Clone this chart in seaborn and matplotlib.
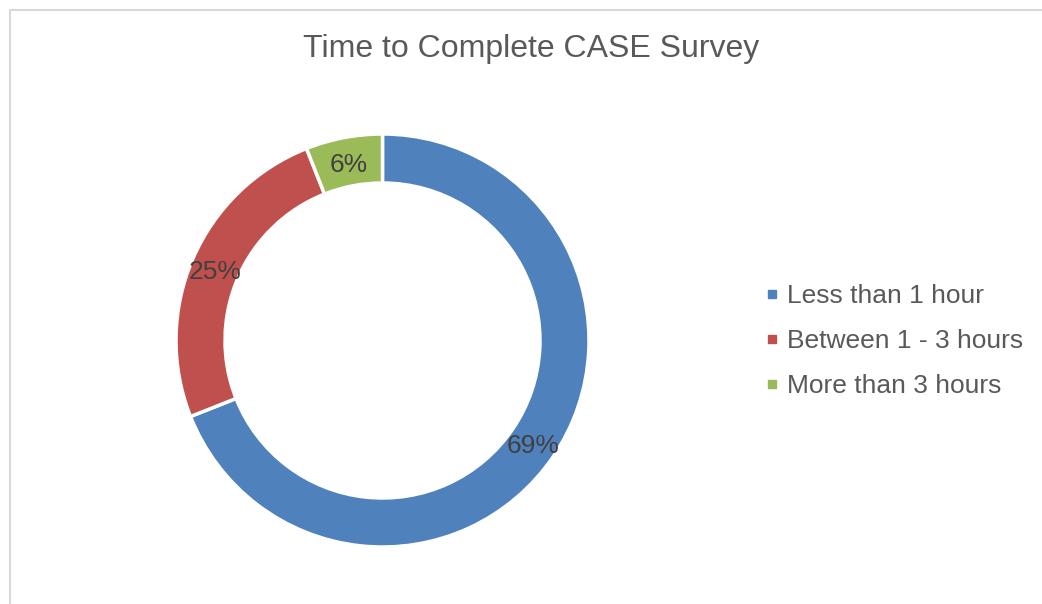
import matplotlib
matplotlib.use("Agg")
import matplotlib.pyplot as plt
from matplotlib.lines import Line2D
from matplotlib.patches import Rectangle
import seaborn as sns

# chart data
categories = ["Less than 1 hour", "Between 1 - 3 hours", "More than 3 hours"]
shares = [69, 25, 6]
colors = ["#4F81BD", "#C0504D", "#9BBB59"]
title = "Time to Complete CASE Survey"

sns.set_theme(style="white")
plt.rcParams["font.family"] = ["Liberation Sans", "DejaVu Sans"]

W, H = 1042, 604
fig = plt.figure(figsize=(W / 100, H / 100), dpi=100)
fig.patch.set_facecolor("white")

# donut axes: center (382.5, 340.5) px, radius 206.5 px
cx, cy, r = 382.5, 340.5, 206.5
ax = fig.add_axes([(cx - r) / W, (H - cy - r) / H, 2 * r / W, 2 * r / H])
ring = 49 / r
wedges, texts, autotexts = ax.pie(
    shares, colors=colors, startangle=90, counterclock=False, radius=1,
    autopct="%.0f%%", pctdistance=1 - ring / 2,
    wedgeprops=dict(width=ring, edgecolor="white", linewidth=2.5),
    textprops=dict(fontsize=19, color="#404040"))
# excel puts the labels a touch lower than the ring midline
for t in autotexts:
    x, y = t.get_position()
    t.set_position((x, y - 3.5 / r))
ax.set_xlim(-1, 1)
ax.set_ylim(-1, 1)
ax.axis("off")

fig.text(531.5 / W, 1 - 49 / H, title, ha="center", va="center",
         fontsize=23, color="#595959")

handles = [Line2D([], [], marker="s", linestyle="none", markersize=5.5,
                  markerfacecolor=c, markeredgecolor=c) for c in colors]
fig.legend(handles, categories, loc="center left",
           bbox_to_anchor=(754 / W, 1 - 341 / H), frameon=False,
           fontsize=19, labelcolor="#595959", handlelength=0.6,
           handletextpad=0.25, labelspacing=0.8, borderaxespad=0)

# chart area border (only left and top visible in the crop)
fig.patches.append(Rectangle((10 / W, -0.05), 1.1, 1 - 9.5 / H + 0.05,
                             transform=fig.transFigure, fill=False,
                             edgecolor="#d9d9d9", linewidth=1.5))

fig.savefig("out.png", dpi=100)
